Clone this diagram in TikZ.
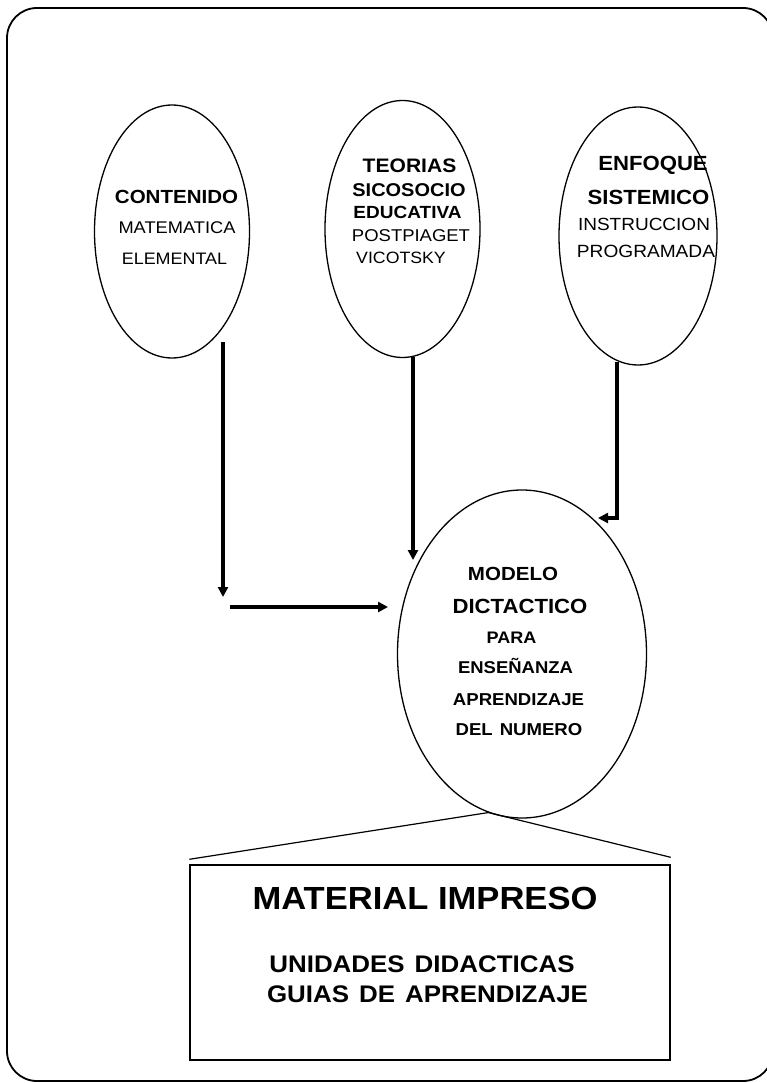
\documentclass[tikz,border=0pt]{standalone}
\usepackage{fontspec}
\setmainfont{Liberation Sans}[FakeStretch=1.08]
\usetikzlibrary{shapes.geometric,arrows.meta}
\newcommand\myfs[1]{\fontsize{#1}{#1}\selectfont}
\begin{document}
\begin{tikzpicture}[x=1pt,y=-1pt,
  frame/.style={draw, line width=1.8pt, rounded corners=30pt},
  ell/.style={draw, ellipse, line width=1.3pt, inner sep=0pt},
  arr/.style={line width=3.2pt, -{Triangle[length=10pt,width=10pt]}},
  thinline/.style={line width=1.2pt},
  bt/.style={font=\myfs{#1}\bfseries, anchor=base, inner sep=0pt},
  rt/.style={font=\myfs{#1}, anchor=base, inner sep=0pt}]
\useasboundingbox (0,0) rectangle (767,1083);
\begin{scope}
\clip (0,0) rectangle (767,1083);
\draw[frame] (7,8) rectangle (773,1081);
\end{scope}

% ellipses
\node[ell, minimum width=155pt, minimum height=253pt] (e1) at (172,231.5) {};
\node[ell, minimum width=155pt, minimum height=257pt] (e2) at (402.5,229) {};
\node[ell, minimum width=158pt, minimum height=258pt] (e3) at (638,236) {};
\node[ell, minimum width=249pt, minimum height=328pt] (e4) at (522,654) {};

% texts ellipse 1
\node[bt=19] (t1a) at (176.5,204) {CONTENIDO};
\node[rt=16.9] (t1b) at (177,233.5) {MATEMATICA};
\node[rt=16.6] (t1c) at (174.5,265) {ELEMENTAL};

% texts ellipse 2
\node[bt=19.5] (t2a) at (409.5,173) {TEORIAS};
\node[bt=18.5] (t2b) at (409,197) {SICOSOCIO};
\node[bt=17.6] (t2c) at (407.5,219) {EDUCATIVA};
\node[rt=17.1] (t2d) at (411,242) {POSTPIAGET};
\node[rt=16.4] (t2e) at (401,263) {VICOTSKY};

% texts ellipse 3
\node[bt=20.5] (t3a) at (653,171) {ENFOQUE};
\node[bt=20.5] (t3b) at (648.5,205) {SISTEMICO};
\node[rt=17.6] (t3c) at (644,230) {INSTRUCCION};
\node[rt=17.7] (t3d) at (646,258) {PROGRAMADA};

% texts ellipse 4
\node[bt=19] (t4a) at (513,580) {MODELO};
\node[bt=20.5] (t4b) at (520,613) {DICTACTICO};
\node[bt=16.7] (t4c) at (511.5,643) {PARA};
\node[bt=17.1] (t4d) at (515.5,673) {ENSEÑANZA};
\node[bt=17.2] (t4e) at (518.5,705) {APRENDIZAJE};
\node[bt=17.2] (t4f) at (519,735) {DEL\hspace{7pt}NUMERO};

% box
\node[draw, line width=1.4pt, minimum width=480pt, minimum height=195pt, inner sep=0pt] (box) at (430,962.5) {};
\node[bt=32] (b1) at (425,909) {MATERIAL IMPRESO};
\node[bt=24] (b2) at (422,972) {UNIDADES\hspace{10pt}DIDACTICAS};
\node[bt=24] (b3) at (427.5,1002) {GUIAS\hspace{10pt}DE\hspace{10pt}APRENDIZAJE};

% tent lines
\coordinate (apex) at (e4.258.7);
\draw[thinline] (apex) -- ([yshift=5pt]box.north west);
\draw[thinline] (apex) -- ([yshift=7pt]box.north east);

% arrows
\coordinate (a1s) at (223,342);
\coordinate (a1e) at (223,597);
\coordinate (a1h) at (230,607);
\coordinate (a1t) at (388,607);
\draw[arr] (a1s) -- (a1e);
\draw[arr] (a1h) -- (a1t);

\coordinate (a2s) at (413,357);
\coordinate (a2e) at (413,560);
\draw[arr] (a2s) -- (a2e);

\coordinate (a3s) at (617,362);
\coordinate (a3e) at (598,518);
\draw[arr] (a3s) |- (a3e);
\end{tikzpicture}
\end{document}
